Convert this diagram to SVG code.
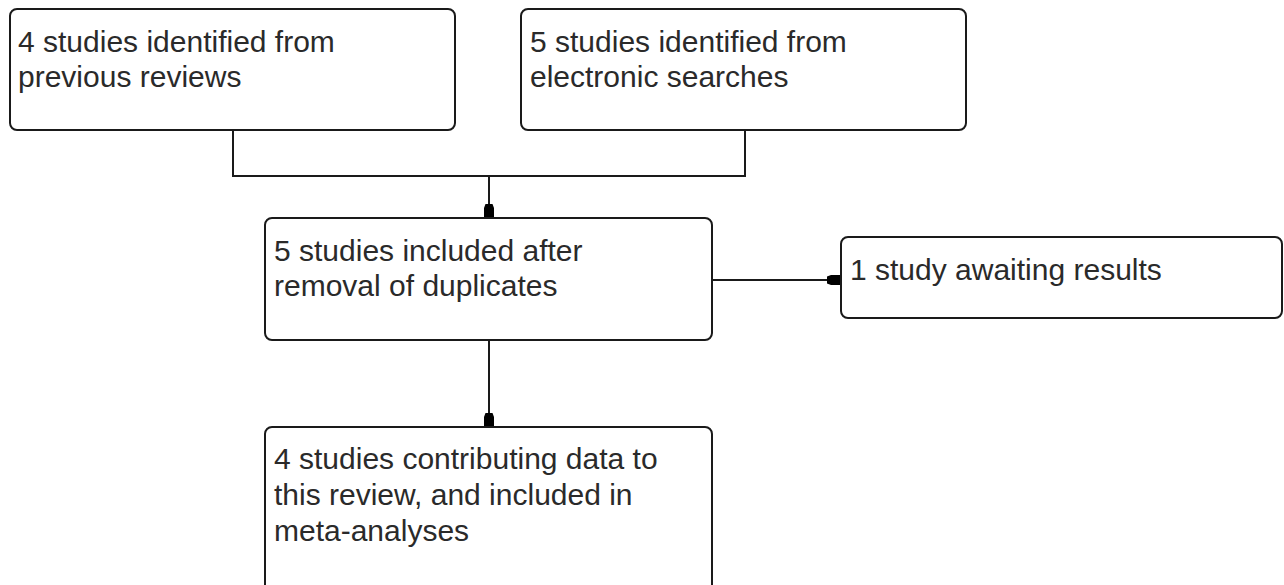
<svg xmlns="http://www.w3.org/2000/svg" width="1284" height="585" viewBox="0 0 1284 585">
  <style>
    .box { fill: #ffffff; stroke: #1a1a1a; stroke-width: 2; }
    .lbl { font-family: "Liberation Sans", Arial, sans-serif; font-size: 30px; fill: #2a2a2a; }
    .conn { fill: none; stroke: #1a1a1a; stroke-width: 2; }
  </style>
  <defs>
    <marker id="arr" markerUnits="userSpaceOnUse" markerWidth="16" markerHeight="14" viewBox="0 -7 16 14" refX="13" refY="0" orient="auto">
      <path d="M0,-3.5 L4,-5 L13,-5 L13,5 L4,5 L0,3.5 Z" fill="#000"/>
    </marker>
  </defs>
  <rect width="1284" height="585" fill="#ffffff"/>

  <g id="connectors">
    <polyline class="conn" points="233,130 233,176 745,176 745,130"/>
    <line class="conn" x1="489" y1="176" x2="489" y2="217" marker-end="url(#arr)"/>
    <line class="conn" x1="489" y1="340" x2="489" y2="426" marker-end="url(#arr)"/>
    <line class="conn" x1="712" y1="280" x2="840" y2="280" marker-end="url(#arr)"/>
  </g>

  <g id="node-previous-reviews">
    <rect class="box" x="10" y="9" width="445" height="121" rx="7"/>
    <text class="lbl" x="18" y="52">4 studies identified from</text>
    <text class="lbl" x="18" y="87">previous reviews</text>
  </g>

  <g id="node-electronic-searches">
    <rect class="box" x="521" y="9" width="445" height="121" rx="7"/>
    <text class="lbl" x="530" y="52">5 studies identified from</text>
    <text class="lbl" x="530" y="87">electronic searches</text>
  </g>

  <g id="node-included">
    <rect class="box" x="265" y="218" width="447" height="122" rx="7"/>
    <text class="lbl" x="274" y="261">5 studies included after</text>
    <text class="lbl" x="274" y="296">removal of duplicates</text>
  </g>

  <g id="node-awaiting">
    <rect class="box" x="841" y="237" width="441" height="81" rx="7"/>
    <text class="lbl" x="850" y="280">1 study awaiting results</text>
  </g>

  <g id="node-contributing">
    <rect class="box" x="265" y="427" width="447" height="180" rx="7"/>
    <text class="lbl" x="274" y="469">4 studies contributing data to</text>
    <text class="lbl" x="274" y="505">this review, and included in</text>
    <text class="lbl" x="274" y="541">meta-analyses</text>
  </g>
</svg>
